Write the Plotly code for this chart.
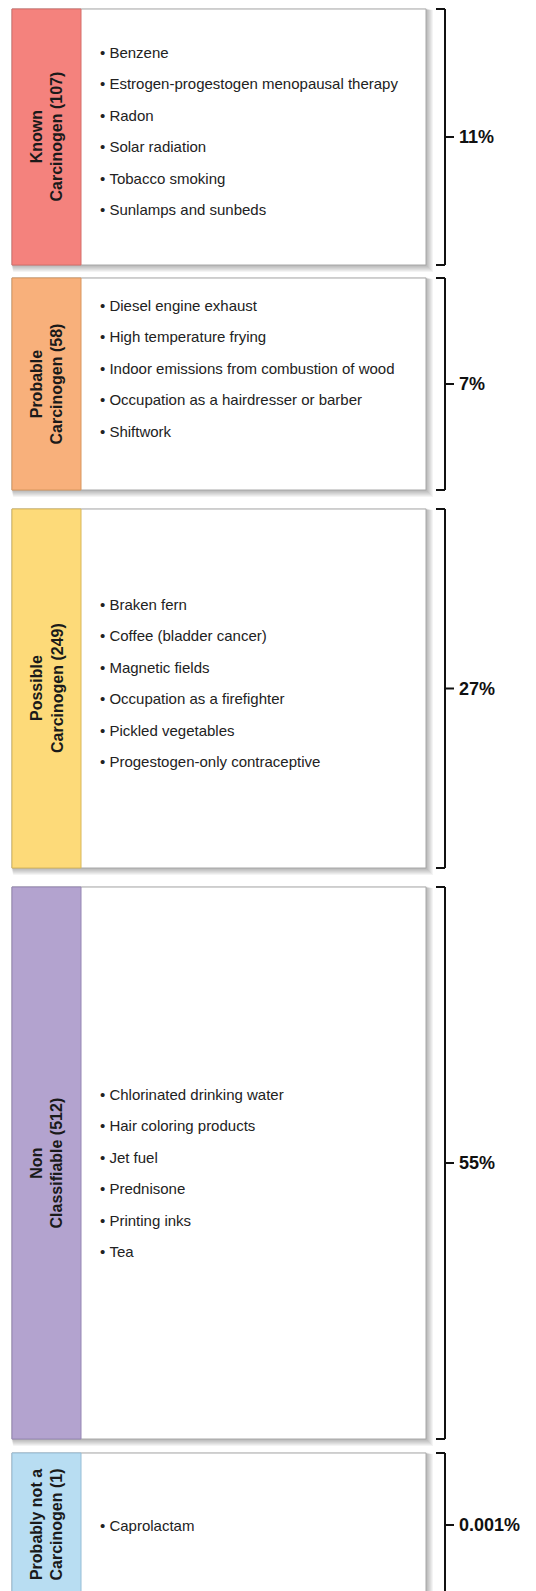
import plotly.graph_objects as go

# ---------------- data ----------------
group_line1 = ["Known", "Probable", "Possible", "Non", "Probably not a"]
group_line2 = ["Carcinogen", "Carcinogen", "Carcinogen", "Classifiable", "Carcinogen"]
agent_counts = [107, 58, 249, 512, 1]
share_labels = ["11%", "7%", "27%", "55%", "0.001%"]
examples = [
    ["Benzene", "Estrogen-progestogen menopausal therapy", "Radon",
     "Solar radiation", "Tobacco smoking", "Sunlamps and sunbeds"],
    ["Diesel engine exhaust", "High temperature frying",
     "Indoor emissions from combustion of wood",
     "Occupation as a hairdresser or barber", "Shiftwork"],
    ["Braken fern", "Coffee (bladder cancer)", "Magnetic fields",
     "Occupation as a firefighter", "Pickled vegetables",
     "Progestogen-only contraceptive"],
    ["Chlorinated drinking water", "Hair coloring products", "Jet fuel",
     "Prednisone", "Printing inks", "Tea"],
    ["Caprolactam"],
]

# ---------------- layout / style ----------------
W, H = 536, 1591
PAGE_MARGIN = 8  # default body margin of the html page
box_top = [9, 278, 509, 887, 1453]
box_bot = [265, 490, 868, 1439, 1597]
first_line = [52, 305, 604, 1094, 1525]
line_gap = 31.5
box_x0, strip_x1, box_x1 = 12, 81, 426
bracket_x, hook_x, tick_x = 445, 436, 454
label_x = 457
strip_colors = ["#F4827D", "#F8B07B", "#FDDA79", "#B3A3CF", "#B8DDF2"]
strip_edges = ["#D66F6A", "#D9975F", "#D9B85A", "#9586B3", "#96BDD6"]

BODY = "Liberation Sans, Arial, Helvetica, sans-serif"

fig = go.Figure()
fig.add_trace(go.Scatter(x=[PAGE_MARGIN, W], y=[PAGE_MARGIN, H], mode="markers",
                         marker=dict(opacity=0), hoverinfo="skip", showlegend=False))

shapes = []
annotations = []
for i in range(len(group_line1)):
    t, b = box_top[i], box_bot[i]
    # soft drop shadow
    for k in range(1, 8):
        shapes.append(dict(type="rect", xref="x", yref="y", layer="below",
                           x0=box_x0 - 1 + k * 0.3, x1=box_x1 + k,
                           y0=t - 1 + k * 0.3, y1=b + k,
                           line=dict(width=0), fillcolor="rgba(0,0,0,0.045)"))
    # white card
    shapes.append(dict(type="rect", xref="x", yref="y", layer="below",
                       x0=box_x0, x1=box_x1, y0=t, y1=b,
                       line=dict(color="#A8A8A8", width=1), fillcolor="white"))
    # coloured strip
    shapes.append(dict(type="rect", xref="x", yref="y", layer="below",
                       x0=box_x0, x1=strip_x1, y0=t, y1=b,
                       line=dict(color=strip_edges[i], width=1),
                       fillcolor=strip_colors[i]))
    # bracket
    for seg in [(hook_x, t, bracket_x, t), (bracket_x, t, bracket_x, b),
                (hook_x, b, bracket_x, b)]:
        shapes.append(dict(type="line", xref="x", yref="y",
                           x0=seg[0], y0=seg[1], x1=seg[2], y1=seg[3],
                           line=dict(color="#111111", width=2)))
    mid = (t + b) / 2
    shapes.append(dict(type="line", xref="x", yref="y",
                       x0=bracket_x, y0=mid, x1=tick_x, y1=mid,
                       line=dict(color="#111111", width=2)))
    # share label
    annotations.append(dict(x=label_x, y=mid, xref="x", yref="y",
                            text=f"<b>{share_labels[i]}</b>", showarrow=False,
                            xanchor="left", yanchor="middle",
                            font=dict(family=BODY, size=18, color="#111111")))
    # rotated category label
    annotations.append(dict(x=(box_x0 + strip_x1) / 2, y=mid, xref="x", yref="y",
                            text=f"<b>{group_line1[i]}<br>{group_line2[i]} ({agent_counts[i]})</b>",
                            showarrow=False, textangle=-90,
                            xanchor="center", yanchor="middle",
                            font=dict(family=BODY, size=16, color="#1a1a1a")))
    # example agents
    for j, name in enumerate(examples[i]):
        annotations.append(dict(x=98, y=first_line[i] + j * line_gap,
                                xref="x", yref="y",
                                text="•\u00a0" + name, showarrow=False,
                                xanchor="left", yanchor="middle",
                                font=dict(family=BODY, size=15, color="#222222")))

fig.update_layout(
    width=W - PAGE_MARGIN, height=H - PAGE_MARGIN,
    margin=dict(l=0, r=0, t=0, b=0, pad=0),
    paper_bgcolor="white", plot_bgcolor="white",
    xaxis=dict(range=[PAGE_MARGIN, W], visible=False, fixedrange=True),
    yaxis=dict(range=[H, PAGE_MARGIN], visible=False, fixedrange=True),
    shapes=shapes, annotations=annotations, showlegend=False,
)

fig.write_html("out.html")
